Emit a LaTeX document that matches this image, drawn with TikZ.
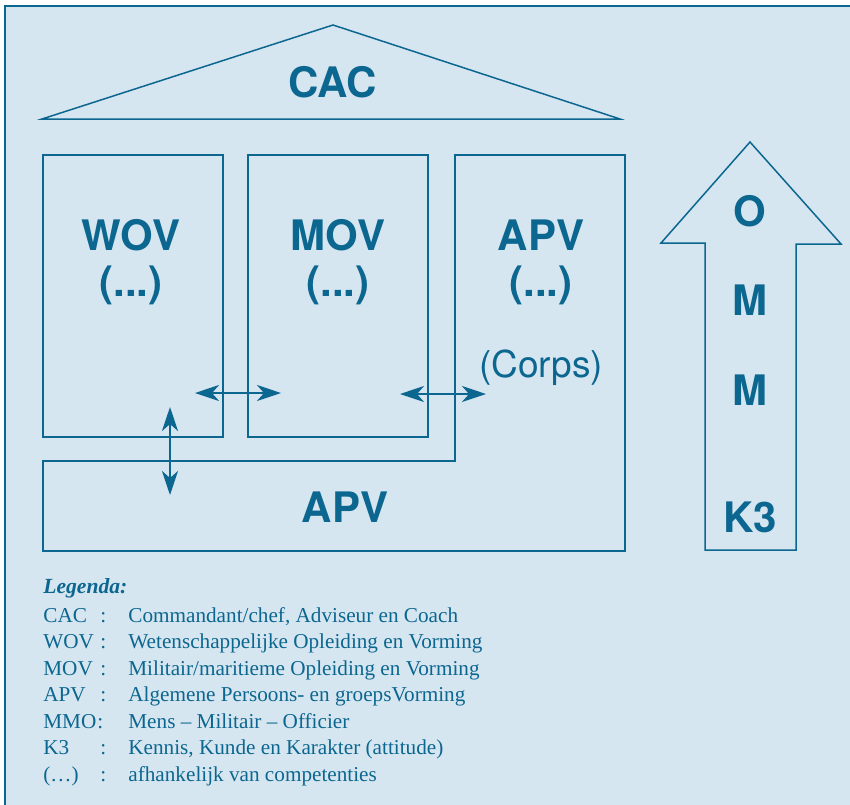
\documentclass[tikz,border=0pt]{standalone}
\usepackage{fontspec}
\setmainfont{Liberation Serif}
\newfontfamily\hvfont{TeX Gyre Heros}
\usepackage{xcolor}
\usepackage{tikz}
\usetikzlibrary{positioning,arrows.meta}
\definecolor{kmablue}{HTML}{0B6690}
\definecolor{kmabg}{HTML}{D6E6F0}

\begin{document}
\begin{tikzpicture}[x=0.5pt,y=-0.5pt,
  box/.style={draw=kmablue,line width=0.75pt},
  big/.style={text=kmablue,font=\hvfont\bfseries\fontsize{21}{25}\selectfont,inner sep=0pt},
  link/.style={kmablue,line width=1.3pt,{Stealth[length=12pt,width=8pt,inset=3.5pt]}-{Stealth[length=12pt,width=8pt,inset=3.5pt]}},
  leg/.style={text=kmablue,font=\fontsize{10.6}{13}\selectfont,anchor=base west,inner sep=0pt}]
\useasboundingbox (0,0) rectangle (850,804);
\fill[white] (0,0) rectangle (850,804);
\clip (0,0) rectangle (850,804);
% frame
\draw[kmablue,fill=kmabg,line width=0.8pt] (5,6) rectangle (880,840);
% roof
\draw[box] (42,119) -- (333,25) -- (620,119) -- cycle;
\node[big] (cac) at (333,82) {CAC};
% pillars
\draw[box] (43,155) rectangle (223,437);
\draw[box] (248,155) rectangle (428,437);
\draw[box] (455,155) -- (625,155) -- (625,551) -- (43,551) -- (43,461) -- (455,461) -- cycle;
\node[big] (wov) at (131,235) {WOV};
\node[big] (wovx) at (131,285) {(...)};
\node[big] (mov) at (338,235) {MOV};
\node[big] (movx) at (338,285) {(...)};
\node[big] (apv) at (541,235) {APV};
\node[big] (apvx) at (541,285) {(...)};
\node[text=kmablue,font=\hvfont\fontsize{18.5}{22}\selectfont,inner sep=0pt] (corps) at (541,368) {(Corps)};
\node[big] (apvb) at (345,507) {APV};
% links
\coordinate (l1a) at (195,393);
\coordinate (l1b) at (281,393);
\coordinate (l2a) at (400,394);
\coordinate (l2b) at (486,394);
\coordinate (l3a) at (170,407);
\coordinate (l3b) at (170,495);
\draw[link] (l1a) -- (l1b);
\draw[link] (l2a) -- (l2b);
\draw[link] (l3a) -- (l3b);
% MMO arrow
\draw[box] (750,142) -- (841,244) -- (796,244) -- (796,550) -- (705,550) -- (705,243) -- (661,243) -- cycle;
\node[big] (o) at (750,211) {O};
\node[big] (m1) at (750,300) {M};
\node[big] (m2) at (750,390) {M};
\node[big] (kk) at (750,517) {K3};
% legend
\node[leg,font=\fontsize{10.8}{13}\selectfont\bfseries\itshape] (legtitle) at (43,593) {Legenda:};
\node[leg] (ab1) at (43,622) {CAC};
\node[leg] (ab2) at (43,648.5) {WOV};
\node[leg] (ab3) at (43,675) {MOV};
\node[leg] (ab4) at (43,701.5) {APV};
\node[leg] (ab5) at (43,728) {MMO};
\node[leg] (ab6) at (43,754.5) {K3};
\node[leg] (ab7) at (43,781) {(\ldots)};
\node[leg] (c1) at (100,622) {:};
\node[leg] (c2) at (100,648.5) {:};
\node[leg] (c3) at (100,675) {:};
\node[leg] (c4) at (100,701.5) {:};
\node[leg] (c5) at (97,728) {:};
\node[leg] (c6) at (100,754.5) {:};
\node[leg] (c7) at (100,781) {:};
\node[leg] (d1) at (128,622) {Commandant/chef, Adviseur en Coach};
\node[leg] (d2) at (128,648.5) {Wetenschappelijke Opleiding en Vorming};
\node[leg] (d3) at (128,675) {Militair/maritieme Opleiding en Vorming};
\node[leg] (d4) at (128,701.5) {Algemene Persoons- en groepsVorming};
\node[leg] (d5) at (128,728) {Mens -- Militair -- Officier};
\node[leg] (d6) at (128,754.5) {Kennis, Kunde en Karakter (attitude)};
\node[leg] (d7) at (128,781) {afhankelijk van competenties};
\end{tikzpicture}
\end{document}
